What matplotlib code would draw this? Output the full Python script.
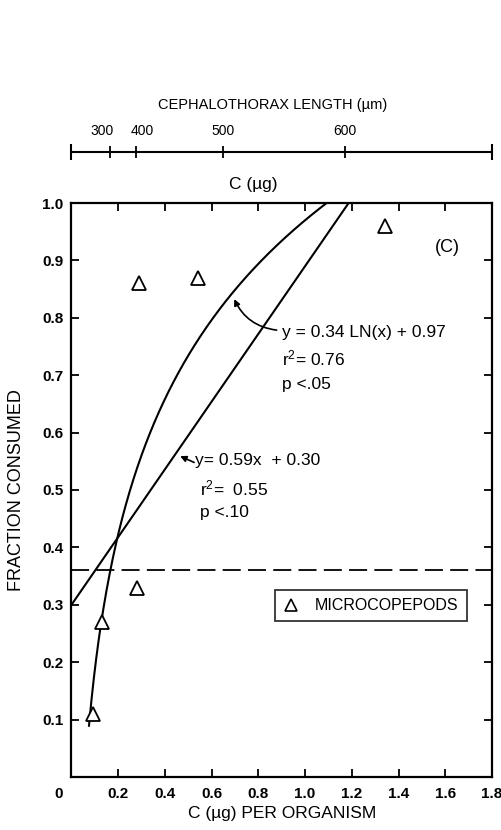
import numpy as np
import matplotlib
matplotlib.use("Agg")
import matplotlib.pyplot as plt
import matplotlib.transforms as mtransforms
from matplotlib.lines import Line2D

plt.rcParams['font.family'] = ['Liberation Sans', 'DejaVu Sans']
plt.rcParams['mathtext.default'] = 'regular'

# microcopepod feeding data
carbon = [0.09, 0.13, 0.28, 0.29, 0.54, 1.34]          # C (ug) per organism
fraction = [0.11, 0.27, 0.33, 0.86, 0.87, 0.96]        # fraction consumed

# fitted relationships (from the equations printed on the plot)
log_a, log_b = 0.34, 0.97      # y = a LN(x) + b
lin_m, lin_c = 0.59, 0.30      # y = m x + c
log_xmin = 0.075
reference_level = 0.36

# cephalothorax length scale shown above the plot
length_labels = ['300', '400', '500', '600']
length_at_carbon = [0.165, 0.275, 0.65, 1.17]

x_ticks = [0, 0.2, 0.4, 0.6, 0.8, 1.0, 1.2, 1.4, 1.6, 1.8]
y_ticks = [0.1, 0.2, 0.3, 0.4, 0.5, 0.6, 0.7, 0.8, 0.9, 1.0]

fig = plt.figure(figsize=(5.02, 8.3), dpi=100)
L, B, W, H = 0.1424, 0.0639, 0.8376, 0.6915
ax = fig.add_axes([L, B, W, H])

# fitted curves
xl = np.linspace(log_xmin, np.exp((1.0 - log_b) / log_a), 300)
ax.plot(xl, log_a * np.log(xl) + log_b, color='k', lw=1.5)
xs = np.array([0, (1.0 - lin_c) / lin_m])
ax.plot(xs, lin_m * xs + lin_c, color='k', lw=1.5)

ax.axhline(reference_level, color='k', lw=1.3, dashes=(10, 4))

ax.plot(carbon, fraction, linestyle='none', marker='^', ms=10,
        mfc='white', mec='k', mew=1.3, clip_on=False, zorder=5)

ax.set_xlim(0, 1.8)
ax.set_ylim(0, 1.0)
ax.set_xticks(x_ticks)
ax.set_xticklabels(['0', '0.2', '0.4', '0.6', '0.8', '1.0', '1.2', '1.4', '1.6', '1.8'])
ax.set_yticks(y_ticks)
ax.set_yticklabels(['%.1f' % v for v in y_ticks])
ax.tick_params(direction='in', length=6, width=1.3, top=True, right=True,
               labelsize=11)
ax.tick_params(axis='x', pad=7)
ax.tick_params(axis='y', pad=6)
for lab in ax.get_xticklabels() + ax.get_yticklabels():
    lab.set_fontweight('bold')
for s in ax.spines.values():
    s.set_linewidth(1.6)

# nudge the "0" label left of the corner
shift = mtransforms.ScaledTranslation(-0.13, 0, fig.dpi_scale_trans)
zero = ax.get_xticklabels()[0]
zero.set_transform(zero.get_transform() + shift)

ax.set_xlabel('C (\u00b5g) PER ORGANISM', fontsize=12.5, labelpad=4)
ax.set_ylabel('FRACTION CONSUMED', fontsize=13, labelpad=12)

ax.text(1.61, 0.923, '(C)', fontsize=13, ha='center', va='center')

# equation labels
ax.text(0.90, 0.775, 'y = 0.34 LN(x) + 0.97', fontsize=12.5, va='center')
ax.text(0.90, 0.730, 'r$^{2}$= 0.76', fontsize=12.5, va='center')
ax.text(0.90, 0.683, 'p <.05', fontsize=12.5, va='center')
ax.annotate('', xy=(0.692, 0.837), xytext=(0.89, 0.778),
            arrowprops=dict(arrowstyle='-|>', color='k', lw=1.2,
                            mutation_scale=9,
                            connectionstyle='arc3,rad=-0.3'))

ax.text(0.528, 0.552, 'y= 0.59x  + 0.30', fontsize=12.5, va='center')
ax.text(0.55, 0.503, 'r$^{2}$=  0.55', fontsize=12.5, va='center')
ax.text(0.55, 0.460, 'p <.10', fontsize=12.5, va='center')
ax.annotate('', xy=(0.465, 0.559), xytext=(0.525, 0.548),
            arrowprops=dict(arrowstyle='-|>', color='k', lw=1.2,
                            mutation_scale=9, shrinkA=0, shrinkB=0))

handle = Line2D([], [], linestyle='none', marker='^', ms=9, mfc='white',
                mec='k', mew=1.2)
leg = ax.legend([handle], ['MICROCOPEPODS'], loc='center',
                bbox_to_anchor=(0.712, 0.298), fontsize=11.5, frameon=True,
                fancybox=False, edgecolor='k', handlelength=1.0,
                handletextpad=1.0, borderpad=0.5)
leg.get_frame().set_linewidth(1.3)

# upper length scale
ax_top = fig.add_axes([L, 1 - 151.7 / 830, W, 1e-4])
ax_top.set_xlim(0, 1.8)
ax_top.set_yticks([])
for side in ['left', 'right', 'bottom']:
    ax_top.spines[side].set_visible(False)
ax_top.spines['top'].set_linewidth(1.5)
ax_top.patch.set_visible(False)
ax_top.xaxis.tick_top()
ax_top.set_xticks(length_at_carbon)
ax_top.set_xticklabels(length_labels)
ax_top.set_xticks([0, 1.8], minor=True)
ax_top.tick_params(axis='x', which='major', direction='inout', length=9,
                   width=1.3, labelsize=10, pad=5)
ax_top.tick_params(axis='x', which='minor', direction='inout', length=12,
                   width=1.5)

# spread the two crowded labels apart
top_labels = ax_top.get_xticklabels()
for lab, dx in zip(top_labels[:2], [-0.08, 0.07]):
    lab.set_transform(lab.get_transform() +
                      mtransforms.ScaledTranslation(dx, 0, fig.dpi_scale_trans))

fig.text(273 / 502, 1 - 105 / 830, 'CEPHALOTHORAX LENGTH (\u00b5m)',
         fontsize=10.5, ha='center', va='center')
fig.text(253 / 502, 1 - 185 / 830, 'C (\u00b5g)', fontsize=12.5,
         ha='center', va='center')

fig.savefig('out.png', dpi=100)
